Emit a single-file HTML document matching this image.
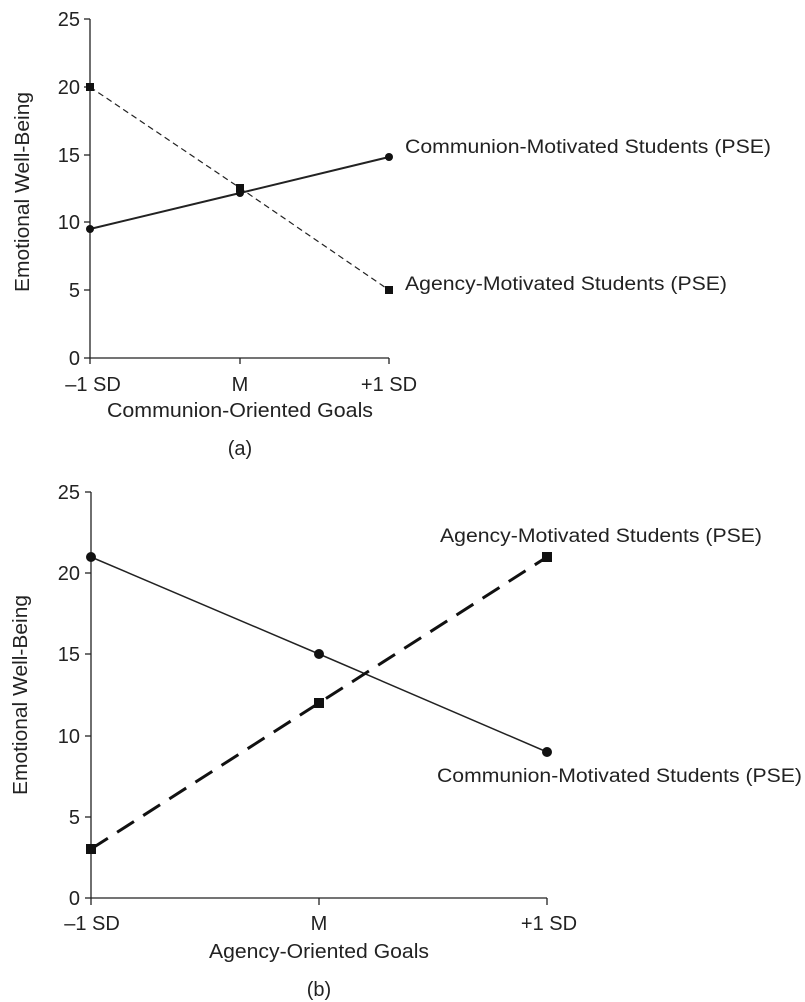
<!DOCTYPE html>
<html><head><meta charset="utf-8"><style>
html,body{margin:0;padding:0;background:#fff;}
svg{display:block;}
text{font-family:"Liberation Sans",Arial,sans-serif;fill:#222;}
</style></head><body>
<svg width="805" height="1002" viewBox="0 0 805 1002" xmlns="http://www.w3.org/2000/svg">
<!-- Chart (a) -->
<g stroke="#222" stroke-width="1.3" fill="none">
<line x1="90" y1="19" x2="90" y2="358"/>
<line x1="90" y1="358" x2="389" y2="358"/>
<line x1="84" y1="19" x2="90" y2="19"/>
<line x1="84" y1="87" x2="90" y2="87"/>
<line x1="84" y1="155" x2="90" y2="155"/>
<line x1="84" y1="222" x2="90" y2="222"/>
<line x1="84" y1="290" x2="90" y2="290"/>
<line x1="84" y1="358" x2="90" y2="358"/>
<line x1="90" y1="358" x2="90" y2="364"/>
<line x1="240" y1="358" x2="240" y2="364"/>
<line x1="389" y1="358" x2="389" y2="364"/>
</g>
<g font-size="20" text-anchor="end">
<text x="80" y="26">25</text><text x="80" y="94">20</text><text x="80" y="162">15</text>
<text x="80" y="229">10</text><text x="80" y="297">5</text><text x="80" y="365">0</text>
</g>
<g font-size="20" text-anchor="middle">
<text x="93" y="391">–1 SD</text><text x="240" y="391">M</text><text x="389" y="391">+1 SD</text>
<text x="240" y="417" textLength="266" lengthAdjust="spacingAndGlyphs">Communion-Oriented Goals</text>
<text x="240" y="455">(a)</text>
</g>
<text transform="translate(29,192) rotate(-90)" font-size="20" text-anchor="middle" textLength="200" lengthAdjust="spacingAndGlyphs">Emotional Well-Being</text>
<polyline points="90,87 240,188 389,290" fill="none" stroke="#222" stroke-width="1.2" stroke-dasharray="6,4"/>
<polyline points="90,229 240,193 389,157" fill="none" stroke="#222" stroke-width="2"/>
<g fill="#111">
<rect x="86" y="83" width="8" height="8"/><rect x="236" y="184" width="8" height="8"/><rect x="385" y="286" width="8" height="8"/>
<circle cx="90" cy="229" r="4"/><circle cx="240" cy="193" r="4"/><circle cx="389" cy="157" r="4"/>
</g>
<text x="405" y="153" font-size="19" textLength="366" lengthAdjust="spacingAndGlyphs">Communion-Motivated Students (PSE)</text>
<text x="405" y="290" font-size="19" textLength="322" lengthAdjust="spacingAndGlyphs">Agency-Motivated Students (PSE)</text>

<!-- Chart (b) -->
<g stroke="#222" stroke-width="1.3" fill="none">
<line x1="91" y1="492" x2="91" y2="898"/>
<line x1="91" y1="898" x2="547" y2="898"/>
<line x1="85" y1="492" x2="91" y2="492"/>
<line x1="85" y1="573" x2="91" y2="573"/>
<line x1="85" y1="654" x2="91" y2="654"/>
<line x1="85" y1="736" x2="91" y2="736"/>
<line x1="85" y1="817" x2="91" y2="817"/>
<line x1="85" y1="898" x2="91" y2="898"/>
<line x1="91" y1="898" x2="91" y2="905"/>
<line x1="319" y1="898" x2="319" y2="905"/>
<line x1="547" y1="898" x2="547" y2="905"/>
</g>
<g font-size="20" text-anchor="end">
<text x="80" y="499">25</text><text x="80" y="580">20</text><text x="80" y="661">15</text>
<text x="80" y="743">10</text><text x="80" y="824">5</text><text x="80" y="905">0</text>
</g>
<g font-size="20" text-anchor="middle">
<text x="92" y="930">–1 SD</text><text x="319" y="930">M</text><text x="549" y="930">+1 SD</text>
<text x="319" y="958" textLength="220" lengthAdjust="spacingAndGlyphs">Agency-Oriented Goals</text>
<text x="319" y="996">(b)</text>
</g>
<text transform="translate(27,695) rotate(-90)" font-size="20" text-anchor="middle" textLength="200" lengthAdjust="spacingAndGlyphs">Emotional Well-Being</text>
<polyline points="91,557 319,654 547,752" fill="none" stroke="#222" stroke-width="1.5"/>
<polyline points="91,849 319,703 547,557" fill="none" stroke="#111" stroke-width="3" stroke-dasharray="20,11"/>
<g fill="#111">
<rect x="86" y="844" width="10" height="10"/><rect x="314" y="698" width="10" height="10"/><rect x="542" y="552" width="10" height="10"/>
<circle cx="91" cy="557" r="5"/><circle cx="319" cy="654" r="5"/><circle cx="547" cy="752" r="5"/>
</g>
<text x="440" y="542" font-size="19" textLength="322" lengthAdjust="spacingAndGlyphs">Agency-Motivated Students (PSE)</text>
<text x="437" y="782" font-size="19" textLength="365" lengthAdjust="spacingAndGlyphs">Communion-Motivated Students (PSE)</text>
</svg>
</body></html>
